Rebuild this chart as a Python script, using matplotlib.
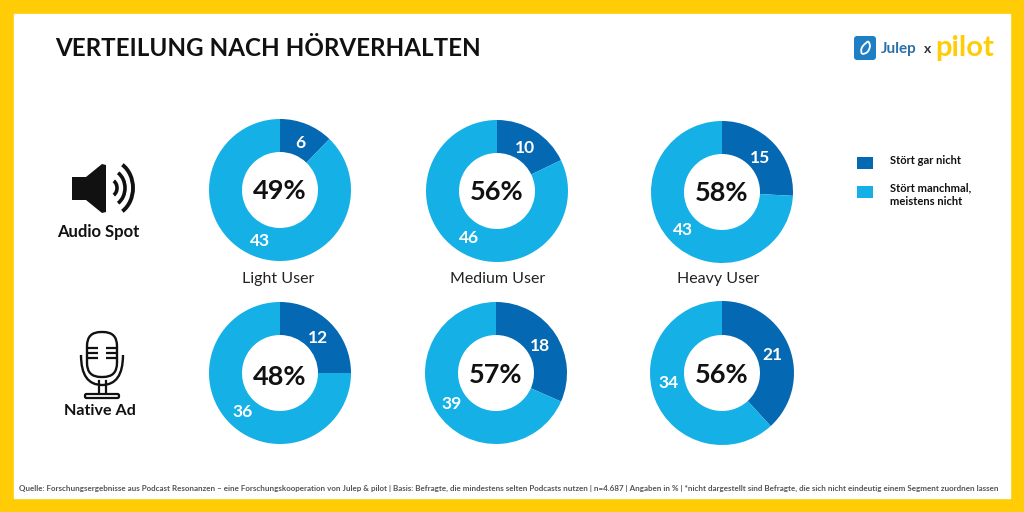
import numpy as np
import matplotlib.pyplot as plt
from matplotlib.patches import Rectangle, Polygon, Arc, FancyBboxPatch, PathPatch
from matplotlib.path import Path

plt.rcParams['font.family'] = ['Lato', 'DejaVu Sans']

# datos
segmentos = ["Light User", "Medium User", "Heavy User"]
stoert_nicht_audio = [6, 10, 15]
manchmal_audio = [43, 46, 43]
total_audio = ["49%", "56%", "58%"]
stoert_nicht_native = [12, 18, 21]
manchmal_native = [36, 39, 34]
total_native = ["48%", "57%", "56%"]
leyenda = ["Stört gar nicht", "Stört manchmal,\nmeistens nicht"]

azul = "#0568b3"
celeste = "#15b0e6"
amarillo = "#ffcc05"
negro = "#111111"

fig = plt.figure(figsize=(10.24, 5.12), dpi=100, facecolor=amarillo)
ax = fig.add_axes([0, 0, 1, 1])
ax.set_xlim(0, 1024)
ax.set_ylim(0, 512)  # y hacia arriba, uso Y() para pasar de pixel
ax.axis("off")


def Y(y):
    return 512 - y


ax.add_patch(Rectangle((14, Y(498)), 996, 484, color="white", zorder=0))


def dona(cx, cy, r, a, b, total, giro_b=0, dy_total=0):
    wedges, _ = ax.pie([a, b], colors=[azul, celeste], startangle=90, counterclock=False,
                       center=(cx, Y(cy)), radius=r, frame=True,
                       wedgeprops=dict(width=r - 38, linewidth=0))
    for w, val, giro in zip(wedges, [a, b], [0, giro_b]):
        ang = np.deg2rad((w.theta1 + w.theta2) / 2 + giro)
        ax.text(cx + (r - 18) * np.cos(ang), Y(cy) + (r - 18) * np.sin(ang) - 2, str(val),
                color="white", fontsize=12.5, fontweight="bold", ha="center", va="center")
    ax.text(cx, Y(cy) - 1 - dy_total, total, color=negro, fontsize=19.5, fontweight="bold",
            ha="center", va="center")


xs1 = [280, 497, 722]
ys1 = [190, 191, 192]
rs1 = [71, 71, 71]
xs2 = [280, 496, 722]
ys2 = [373, 373, 373]
rs2 = [71, 71, 72]
xlab = [278, 498, 718]
giros = [0, 0, -13]  # el 34 no esta en el medio del arco
dy_tot = [3, 1, 1]

for i in range(3):
    dona(xs1[i], ys1[i], rs1[i], stoert_nicht_audio[i], manchmal_audio[i], total_audio[i])
    dona(xs2[i], ys2[i], rs2[i], stoert_nicht_native[i], manchmal_native[i], total_native[i], giros[i], dy_tot[i])
    ax.text(xlab[i], Y(279), segmentos[i], color="#222222", fontsize=11.5, ha="center", va="center")

# pie cambia los limites y el aspecto
ax.set_xlim(0, 1024)
ax.set_ylim(0, 512)
ax.set_aspect("auto")
ax.axis("off")

# titulo
ax.text(55, Y(49), "VERTEILUNG NACH HÖRVERHALTEN", color=negro, fontsize=17.4,
        fontweight="bold", ha="left", va="center")

# leyenda
ax.add_patch(Rectangle((857, Y(169)), 16, 12, color=azul, linewidth=0))
ax.add_patch(Rectangle((857, Y(198)), 16, 12, color=celeste, linewidth=0))
ax.text(890, Y(161), leyenda[0], color=negro, fontsize=8, fontweight="bold", va="center")
ax.text(890, Y(194.5), leyenda[1], color=negro, fontsize=8, fontweight="bold", va="center", linespacing=1.35)

# icono parlante
ax.add_patch(Polygon([(72, Y(177)), (86, Y(177)), (102, Y(164)), (106, Y(165)), (106, Y(212)),
                      (102, Y(213)), (86, Y(200)), (72, Y(200))], color=negro, linewidth=0))
for d, lw in zip([14, 30, 46], [2.6, 2.6, 2.8]):
    ax.add_patch(Arc((110, Y(188)), d, d * 1.2, theta1=-62, theta2=62, color=negro, linewidth=lw))
ax.text(98, Y(232), "Audio Spot", color=negro, fontsize=12, fontweight="bold", ha="center", va="center")

# icono microfono
ax.add_patch(FancyBboxPatch((87, Y(377)), 30, 45, boxstyle="round,pad=0,rounding_size=14",
                            fc="white", ec=negro, lw=1.7))
for yy in [348, 353, 358]:
    ax.plot([88, 98], [Y(yy), Y(yy)], color=negro, lw=1.6, solid_capstyle="butt")
    ax.plot([106, 116], [Y(yy), Y(yy)], color=negro, lw=1.6, solid_capstyle="butt")
ax.add_patch(PathPatch(Path([(81, Y(355)), (81, Y(385)), (102, Y(385)), (123, Y(385)), (123, Y(355))],
                            [Path.MOVETO, Path.CURVE3, Path.LINETO, Path.CURVE3, Path.LINETO]),
                       fc="none", ec=negro, lw=1.7))
ax.plot([98.5, 98.5], [Y(381), Y(393)], color=negro, lw=1.6)
ax.plot([105.5, 105.5], [Y(381), Y(393)], color=negro, lw=1.6)
ax.add_patch(FancyBboxPatch((85, Y(398)), 34, 4, boxstyle="round,pad=0,rounding_size=1.5",
                            fc="white", ec=negro, lw=1.6))
ax.text(100, Y(411), "Native Ad", color=negro, fontsize=11.6, fontweight="bold", ha="center", va="center")

# logo
ax.add_patch(FancyBboxPatch((854, Y(60)), 22, 24, boxstyle="round,pad=0,rounding_size=3",
                            fc="#1f7fc4", ec="none"))
ax.add_patch(PathPatch(Path([(862, Y(54)), (859, Y(48)), (866, Y(43)), (869, Y(39)), (870, Y(46)), (869, Y(54)), (862, Y(54))],
                            [Path.MOVETO, Path.CURVE3, Path.LINETO, Path.CURVE3, Path.LINETO, Path.CURVE3, Path.LINETO][:7]),
                       fc="none", ec="white", lw=1.3))
ax.text(881, Y(49), "Julep", color="#2a6fa8", fontsize=11, fontweight="bold", va="center")
ax.text(924, Y(49), "x", color="#333333", fontsize=10, fontweight="bold", va="center")
ax.text(935, Y(48), "pilot", color=amarillo, fontsize=21, fontweight="bold", va="center")

# nota al pie
ax.text(19, Y(488),
        "Quelle: Forschungsergebnisse aus Podcast Resonanzen – eine Forschungskooperation von Julep & pilot | "
        "Basis: Befragte, die mindestens selten Podcasts nutzen | n=4.687 | Angaben in % | "
        "*nicht dargestellt sind Befragte, die sich nicht eindeutig einem Segment zuordnen lassen",
        color="#555555", fontsize=5.75, fontweight="bold", ha="left", va="center")

fig.savefig("out.png", dpi=100, facecolor=amarillo)
